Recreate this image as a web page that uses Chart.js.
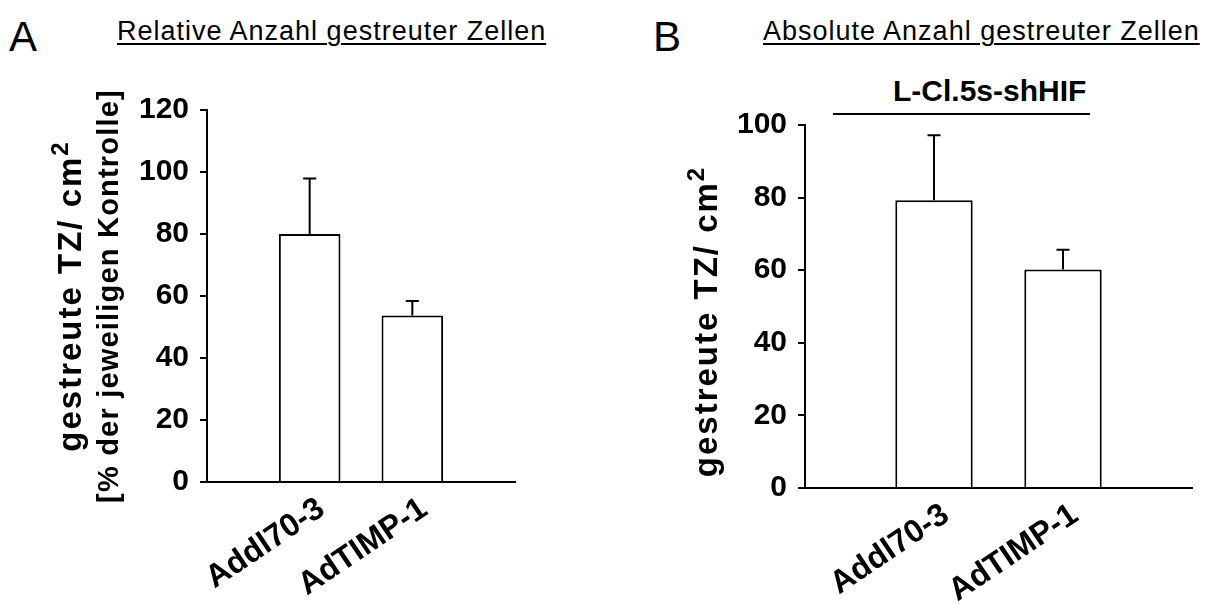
<!DOCTYPE html>
<html>
<head>
<meta charset="utf-8">
<script src="https://cdn.jsdelivr.net/npm/chart.js@4.4.0/dist/chart.umd.min.js"></script>
<style>
  html, body { margin: 0; padding: 0; background: #fff; }
  body {
    width: 1216px; height: 604px; position: relative; overflow: hidden;
    font-family: "Liberation Sans", Arial, sans-serif; color: #000;
  }
  canvas { position: absolute; top: 0; }
  #chartA { left: 0; }
  #chartB { left: 600px; }
  .letter { position: absolute; top: 16px; font-size: 42px; line-height: 1; }
  .heading {
    position: absolute; top: 18px; font-size: 27px; line-height: 1;
    letter-spacing: 1px; white-space: nowrap;
    text-decoration: underline; text-decoration-thickness: 2px; text-underline-offset: 3px;
  }
  .group { position: absolute; top: 76px; font-size: 30px; font-weight: bold; line-height: 1; white-space: nowrap; }
  .groupLine { position: absolute; top: 113px; height: 0; border-top: 2px solid #000; }
</style>
</head>
<body>
<div class="letter" style="left:9px">A</div>
<div class="heading" style="left:117px">Relative Anzahl gestreuter Zellen</div>
<div class="letter" style="left:653px">B</div>
<div class="heading" style="left:763px">Absolute Anzahl gestreuter Zellen</div>
<div class="group" style="left:893px">L-Cl.5s-shHIF</div>
<div class="groupLine" style="left:833px; width:257px"></div>

<canvas id="chartA" width="600" height="604"></canvas>
<canvas id="chartB" width="616" height="604"></canvas>

<script>
// groups on the x axis
const groups = ["Addl70-3", "AdTIMP-1"];

// A: relative number (% of control)
const relValues = [80, 53.7];
const relErrors = [17.9, 4.7];
const relTicks = [0, 20, 40, 60, 80, 100, 120];

// B: absolute number (TZ/cm²)
const absValues = [79.3, 60.2];
const absErrors = [17.9, 5.4];
const absTicks = [0, 20, 40, 60, 80, 100];

const FONT = '"Liberation Sans", Arial, sans-serif';

// one-sided error bars on top of each bar
const errorBarPlugin = {
  id: "errorBars",
  afterDatasetsDraw(chart, args, opts) {
    const ctx = chart.ctx;
    const yScale = chart.scales.y;
    chart.data.datasets.forEach((ds, di) => {
      const meta = chart.getDatasetMeta(di);
      const errs = ds.errors || [];
      meta.data.forEach((bar, i) => {
        const v = ds.data[i];
        const e = errs[i];
        if (v == null || e == null) return;
        const yTop = yScale.getPixelForValue(v + e);
        ctx.save();
        ctx.strokeStyle = "#000";
        ctx.lineWidth = 2;
        ctx.beginPath();
        ctx.moveTo(bar.x, bar.y);
        ctx.lineTo(bar.x, yTop);
        ctx.moveTo(bar.x - opts.capWidth / 2, yTop);
        ctx.lineTo(bar.x + opts.capWidth / 2, yTop);
        ctx.stroke();
        ctx.restore();
      });
    });
  },
};

// rotated y titles with a real superscript
const yTitlePlugin = {
  id: "yTitle",
  afterDraw(chart, args, opts) {
    const ctx = chart.ctx;
    const area = chart.chartArea;
    const cy = (area.top + area.bottom) / 2 + (opts.dy || 0);
    opts.lines.forEach((line) => {
      const mainFont = `bold ${line.size}px ${FONT}`;
      const supSize = Math.round(line.size * 0.72);
      const supFont = `bold ${supSize}px ${FONT}`;
      ctx.save();
      ctx.translate(line.x, cy);
      ctx.rotate(-Math.PI / 2);
      ctx.fillStyle = "#000";
      ctx.textBaseline = "alphabetic";
      ctx.textAlign = "left";
      ctx.letterSpacing = (line.spacing || 0) + "px";
      ctx.font = mainFont;
      const mainW = ctx.measureText(line.text).width;
      let supW = 0;
      if (line.sup) {
        ctx.font = supFont;
        supW = ctx.measureText(line.sup).width;
      }
      const x0 = -(mainW + supW) / 2;
      ctx.font = mainFont;
      ctx.fillText(line.text, x0, 0);
      if (line.sup) {
        ctx.font = supFont;
        ctx.fillText(line.sup, x0 + mainW, -line.size * 0.4);
      }
      ctx.restore();
    });
  },
};

function makeChart(id, values, errors, ticks, geo, titleLines, titleDy) {
  // empty slots at both ends so the bars sit at 1/3 and 2/3 of the axis
  const labels = ["", ...groups, ""];
  const data = [null, ...values, null];
  const errs = [null, ...errors, null];

  return new Chart(document.getElementById(id), {
    type: "bar",
    data: {
      labels: labels,
      datasets: [
        {
          data: data,
          errors: errs,
          backgroundColor: "#fff",
          borderColor: "#000",
          borderWidth: 2,
          categoryPercentage: 1,
          barPercentage: 0.6,
        },
      ],
    },
    options: {
      responsive: false,
      animation: false,
      devicePixelRatio: 1,
      layout: {
        padding: { left: 0, top: geo.top, right: geo.right, bottom: 0 },
      },
      plugins: {
        legend: { display: false },
        tooltip: { enabled: false },
        errorBars: { capWidth: 13 },
        yTitle: { lines: titleLines, dy: titleDy },
      },
      scales: {
        x: {
          offset: false,
          grid: { display: false },
          border: { color: "#000", width: 2 },
          ticks: {
            color: "#000",
            autoSkip: false,
            minRotation: 34,
            maxRotation: 34,
            padding: 0,
            labelOffset: 12,
            font: { family: FONT, size: 32, weight: "bold" },
          },
          afterFit: (scale) => {
            scale.height = geo.xHeight;
          },
        },
        y: {
          min: ticks[0],
          max: ticks[ticks.length - 1],
          afterBuildTicks: (scale) => {
            scale.ticks = ticks.map((v) => ({ value: v }));
          },
          grid: {
            drawOnChartArea: false,
            drawTicks: true,
            tickLength: 7,
            color: "#000",
            lineWidth: 2,
          },
          border: { color: "#000", width: 2 },
          ticks: {
            color: "#000",
            padding: 11,
            font: { family: FONT, size: 30, weight: "bold" },
          },
          afterFit: (scale) => {
            scale.width = geo.yWidth;
          },
        },
      },
    },
    plugins: [errorBarPlugin, yTitlePlugin],
  });
}

makeChart(
  "chartA",
  relValues,
  relErrors,
  relTicks,
  { top: 110, right: 85, yWidth: 207, xHeight: 122 },
  [
    { text: "gestreute TZ/ cm", sup: "2", x: 81, size: 33, spacing: 2 },
    { text: "[% der jeweiligen Kontrolle]", x: 118, size: 29, spacing: 1.2 },
  ],
  0
);

makeChart(
  "chartB",
  absValues,
  absErrors,
  absTicks,
  { top: 125, right: 24, yWidth: 205, xHeight: 116 },
  [{ text: "gestreute TZ/ cm", sup: "2", x: 117, size: 33, spacing: 2 }],
  15
);
</script>
</body>
</html>
